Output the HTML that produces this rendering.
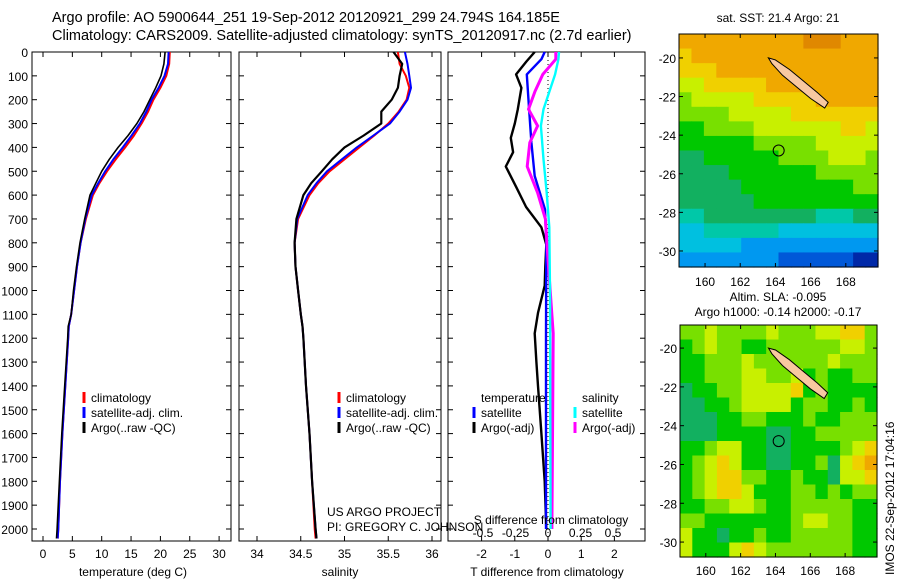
<!DOCTYPE html>
<html><head><meta charset="utf-8"><style>
html,body{margin:0;padding:0;background:#fff;}
svg{display:block;font-family:"Liberation Sans",sans-serif;}
text{fill:#000;}
</style></head><body>
<svg id="fig" width="900" height="580" viewBox="0 0 900 580">
<rect width="900" height="580" fill="#fff"/>
<text x="52" y="22" font-size="14.5">Argo profile: AO 5900644_251 19-Sep-2012 20120921_299 24.794S 164.185E</text>
<text x="52" y="40" font-size="14.5">Climatology: CARS2009. Satellite-adjusted climatology: synTS_20120917.nc (2.7d earlier)</text>
<g id="g1"></g>
<g id="g2"></g>
<g id="g3"></g>
<g id="m1"></g>
<g id="m2"></g>
<text x="778" y="22" font-size="12" text-anchor="middle">sat. SST: 21.4 Argo: 21</text>
<text x="778" y="301" font-size="12" text-anchor="middle">Altim. SLA: -0.095</text>
<text x="778" y="316" font-size="12" text-anchor="middle">Argo h1000: -0.14 h2000: -0.17</text>
<text transform="translate(894,575) rotate(-90)" font-size="12">IMOS 22-Sep-2012 17:04:16</text>
<text x="327" y="516" font-size="12">US ARGO PROJECT</text>
<text x="327" y="531" font-size="12">PI: GREGORY C. JOHNSON</text>
</svg>
<script>
// ---- data ----
const depthTicks=[0,100,200,300,400,500,600,700,800,900,1000,1100,1200,1300,1400,1500,1600,1700,1800,1900,2000];
const tTicks=[0,5,10,15,20,25,30];
const sTicks=[34,34.5,35,35.5,36];
const tdTicks=[-2,-1,0,1,2];
const sdTicks=[-0.5,-0.25,0,0.25,0.5];
const sdTickLabels=["-0.5","-0.25","0","0.25","0.5"];
const profDepth=[0,50,100,150,200,250,300,350,400,450,500,550,600,700,800,900,1000,1100,1150,1200,1400,1600,1800,2000,2040];
const tempClim=[21.6,21.5,21.0,20.0,18.8,17.9,16.8,15.5,14.0,12.4,10.9,9.6,8.5,7.3,6.4,5.8,5.3,4.8,4.4,4.3,3.8,3.3,2.9,2.6,2.5];
const tempSat=[21.4,21.3,20.7,19.7,18.5,17.6,16.5,15.1,13.6,12.0,10.6,9.4,8.3,7.2,6.4,5.8,5.3,4.8,4.4,4.3,3.8,3.3,2.9,2.6,2.5];
const tempArgo=[20.8,20.6,20.1,19.2,18.2,17.2,16.0,14.5,12.8,11.3,10.0,9.0,8.0,7.1,6.3,5.7,5.2,4.8,4.3,4.2,3.7,3.2,2.8,2.4,2.3];
const salClim=[35.61,35.63,35.70,35.74,35.71,35.62,35.50,35.34,35.17,35.00,34.83,34.70,34.60,34.47,34.43,34.44,34.47,34.50,34.52,34.53,34.56,34.60,34.63,34.66,34.67];
const salSat=[35.69,35.72,35.74,35.76,35.72,35.63,35.52,35.33,35.14,34.97,34.80,34.68,34.58,34.46,34.43,34.44,34.47,34.50,34.52,34.53,34.56,34.60,34.63,34.67,34.68];
const salArgo=[35.56,35.66,35.63,35.61,35.54,35.42,35.42,35.22,35.00,34.86,34.74,34.62,34.53,34.45,34.43,34.44,34.47,34.50,34.52,34.53,34.56,34.60,34.63,34.67,34.68];
const tdArgoDepth=[0,40,94,150,240,300,360,420,480,565,650,735,808,900,980,1094,1180,1300,1400,1600,1800,2000];
const tdArgo=[-0.4,-0.65,-0.96,-0.8,-0.91,-1.0,-1.12,-1.05,-1.27,-0.96,-0.66,-0.2,-0.05,-0.08,-0.1,-0.3,-0.4,-0.35,-0.3,-0.2,-0.1,-0.05];
const tdSatDepth=[0,30,94,240,380,520,660,808,1200,2000];
const tdSat=[-0.1,-0.2,-0.64,-0.57,-0.5,-0.4,-0.09,-0.05,-0.06,-0.06];
const sdArgoDepth=[0,30,94,165,240,310,380,480,590,700,870,1180,2000];
const sdArgo=[0.06,0.06,-0.04,-0.1,-0.15,-0.08,-0.14,-0.16,-0.08,-0.02,0,0.04,0.03];
const sdSatDepth=[0,30,94,240,310,450,590,735,1000,2000];
const sdSat=[0.085,0.08,0.055,-0.035,-0.055,-0.035,-0.01,0.01,0.015,0.02];
const lonTicks=[160,162,164,166,168];
const latTicks=[-20,-22,-24,-26,-28,-30];
const sstGrid=["aaaaaaaaaabbbaaa","9aaaaaaaaaaaaaaa","999aaaaaaaaaaaaa","8899999aaaaaaaaa","78888899999aaaaa","7777888889999999","6677778888888998","6666667777788888","5566666677778887","5555666666677777","5555566666666677","5555556666666666","4455555555544455","3344444433333333","3333322222222222","2222222211111100"];
const slaGrid=["7787777877788997","6787766777777887","6677787777778777","6677788778676677","5667788889676666","5566788886776676","5556677666766777","5556666556677777","6678866556666789","678986655667589a","6789977667665889","6789986667767677","6677887667777766","7766666667887766","8665667667777766","8666898777777766"];
const palette=["#0028a8","#0058d8","#0098f0","#00c0e0","#00c8a8","#12b060","#00c800","#78e000","#c8f000","#f0d000","#f0a800","#e08800"];
const islandLon=[163.6,164.0,164.8,165.6,166.4,167.0,166.8,166.0,165.2,164.4,163.8];
const islandLat=[-20.0,-20.1,-20.6,-21.2,-21.8,-22.3,-22.6,-22.1,-21.5,-20.9,-20.3];
const floatLon=164.185, floatLat=-24.794;

// ---- helpers ----
const NS="http://www.w3.org/2000/svg";
function mk(parent,tag,attrs){const e=document.createElementNS(NS,tag);for(const k in attrs)e.setAttribute(k,attrs[k]);parent.appendChild(e);return e;}
const top0=52, bot0=541, dScale=0.2385;
const yD=d=>top0+d*dScale;
function txt(p,x,y,s,anchor,name){const t=mk(p,'text',{x:x,y:y,'font-size':12,'text-anchor':anchor||'middle'});t.textContent=s;

return t;}
function panel(g,x0,x1,name){const r=mk(g,'rect',{x:x0,y:top0,width:x1-x0,height:bot0-top0,fill:'none',stroke:'#000','stroke-width':1});

}
function line(g,xs,ds,xf,color,w,name){const pts=xs.map((v,i)=>xf(v).toFixed(1)+','+yD(ds[i]).toFixed(1)).join(' ');
const p=mk(g,'polyline',{points:pts,fill:'none',stroke:color,'stroke-width':w,'stroke-linejoin':'round'});

}
function xticks(g,ticks,labels,xf,name,ylab){ticks.forEach((t,i)=>{const x=xf(t);
mk(g,'line',{x1:x,x2:x,y1:bot0,y2:bot0-5,stroke:'#000'});mk(g,'line',{x1:x,x2:x,y1:top0,y2:top0+5,stroke:'#000'});
txt(g,x,ylab,labels[i],'middle',name);});}
function legend(g,x,y,color,label,name){const l=mk(g,'line',{x1:x,x2:x,y1:y-10,y2:y+1,stroke:color,'stroke-width':3});


txt(g,x+7,y,label,'start',name);}

// ---- panel 1 temperature ----
const g1=document.getElementById('g1');
const xT=v=>43+v*5.87;
panel(g1,32,231,'temperature-plot-frame');
depthTicks.forEach(d=>{const y=yD(d);mk(g1,'line',{x1:32,x2:37,y1:y,y2:y,stroke:'#000'});mk(g1,'line',{x1:231,x2:226,y1:y,y2:y,stroke:'#000'});
txt(g1,28,y+5,String(d),'end','depth-tick-label');});
xticks(g1,tTicks,tTicks.map(String),xT,'temperature-tick-label',558);
line(g1,tempClim,profDepth,xT,'#f00',2,'temperature-climatology-line');
line(g1,tempSat,profDepth,xT,'#00f',2,'temperature-satellite-line');
line(g1,tempArgo,profDepth,xT,'#000',1.6,'temperature-argo-line');
txt(g1,133,576,'temperature (deg C)','middle','temperature-axis-title');
legend(g1,84,402,'#f00','climatology','legend-climatology');
legend(g1,84,417,'#00f','satellite-adj. clim.','legend-satellite');
legend(g1,84,432,'#000','Argo(..raw -QC)','legend-argo');

// ---- panel 2 salinity ----
const g2=document.getElementById('g2');
const xS=v=>257+(v-34)*87.5;
panel(g2,239,441,'salinity-plot-frame');
depthTicks.forEach(d=>{const y=yD(d);mk(g2,'line',{x1:239,x2:244,y1:y,y2:y,stroke:'#000'});mk(g2,'line',{x1:441,x2:436,y1:y,y2:y,stroke:'#000'});});
xticks(g2,sTicks,sTicks.map(String),xS,'salinity-tick-label',558);
line(g2,salClim,profDepth,xS,'#f00',2,'salinity-climatology-line');
line(g2,salSat,profDepth,xS,'#00f',2,'salinity-satellite-line');
line(g2,salArgo,profDepth,xS,'#000',2.2,'salinity-argo-line');
txt(g2,340,576,'salinity','middle','salinity-axis-title');
legend(g2,339,402,'#f00','climatology','legend-climatology-2');
legend(g2,339,417,'#00f','satellite-adj. clim.','legend-satellite-2');
legend(g2,339,432,'#000','Argo(..raw -QC)','legend-argo-2');

// ---- panel 3 differences ----
const g3=document.getElementById('g3');
const xTD=v=>548+v*33.2, xSD=v=>548+v*130;
panel(g3,448,645,'difference-plot-frame');
depthTicks.forEach(d=>{const y=yD(d);mk(g3,'line',{x1:448,x2:453,y1:y,y2:y,stroke:'#000'});mk(g3,'line',{x1:645,x2:640,y1:y,y2:y,stroke:'#000'});});
xticks(g3,tdTicks,tdTicks.map(String),xTD,'t-diff-tick-label',558);
sdTicks.forEach((t,i)=>txt(g3,xSD(t),537,sdTickLabels[i],'middle','s-diff-tick-label'));
mk(g3,'line',{x1:548,x2:548,y1:top0,y2:bot0,stroke:'#000','stroke-dasharray':'1,3'});
line(g3,tdArgo,tdArgoDepth,xTD,'#000',2.4,'t-diff-argo-line');
line(g3,tdSat,tdSatDepth,xTD,'#00f',2.4,'t-diff-satellite-line');
line(g3,sdArgo,sdArgoDepth,xSD,'#f0f',3,'s-diff-argo-line');
line(g3,sdSat,sdSatDepth,xSD,'#0ff',2.4,'s-diff-satellite-line');
txt(g3,547,576,'T difference from climatology','middle','t-diff-axis-title');
txt(g3,551,524,'S difference from climatology','middle','s-diff-axis-title');
txt(g3,481,402,'temperature','start','legend-temperature-header');
txt(g3,582,402,'salinity','start','legend-salinity-header');
legend(g3,474,417,'#00f','satellite','legend-t-satellite');
legend(g3,474,432,'#000','Argo(-adj)','legend-t-argo');
legend(g3,575,417,'#0ff','satellite','legend-s-satellite');
legend(g3,575,432,'#f0f','Argo(-adj)','legend-s-argo');

// ---- maps ----
function map(id,grid,x0,y0,w,h,latTop,latBot,lblY,prefix){
 const g=document.getElementById(id);
 const lon0=158.52, lon1=169.83;
 const xL=v=>x0+(v-lon0)/(lon1-lon0)*w, yL=v=>y0+(latTop-v)/(latTop-latBot)*h;
 const rows=grid.length, cols=grid[0].length, cw=w/cols, ch=h/rows;
 grid.forEach((row,r)=>{for(let c=0;c<cols;c++){const v=parseInt(row[c],16);
  const cell=mk(g,'rect',{x:(x0+c*cw).toFixed(2),y:(y0+r*ch).toFixed(2),width:(cw+0.6).toFixed(2),height:(ch+0.6).toFixed(2),fill:palette[v]});
  
  }});
 const pts=islandLon.map((v,i)=>xL(v).toFixed(1)+','+yL(islandLat[i]).toFixed(1)).join(' ');
 const isl=mk(g,'polygon',{points:pts,fill:'#f8c8a0',stroke:'#000','stroke-width':1});
 
 
 const c=mk(g,'circle',{cx:xL(floatLon),cy:yL(floatLat),r:5.5,fill:'none',stroke:'#000','stroke-width':1});
 
 
 const fr=mk(g,'rect',{x:x0,y:y0,width:w,height:h,fill:'none',stroke:'#000'});
 
 
 lonTicks.forEach(l=>{const x=xL(l);mk(g,'line',{x1:x,x2:x,y1:y0,y2:y0+4,stroke:'#000'});mk(g,'line',{x1:x,x2:x,y1:y0+h,y2:y0+h-4,stroke:'#000'});
  txt(g,x,lblY,String(l),'middle',prefix+'-lon-label');});
 latTicks.forEach(l=>{const y=yL(l);mk(g,'line',{x1:x0+w,x2:x0+w-4,y1:y,y2:y,stroke:'#000'});mk(g,'line',{x1:x0,x2:x0+4,y1:y,y2:y,stroke:'#000'});
  txt(g,x0-3,y+5,String(l),'end',prefix+'-lat-label');});
}
map('m1',sstGrid,679,34,199,233,-18.76,-30.83,286,'sst-map');
map('m2',slaGrid,680,325,197,232,-18.81,-30.77,575,'sla-map');
</script>
</body></html>
